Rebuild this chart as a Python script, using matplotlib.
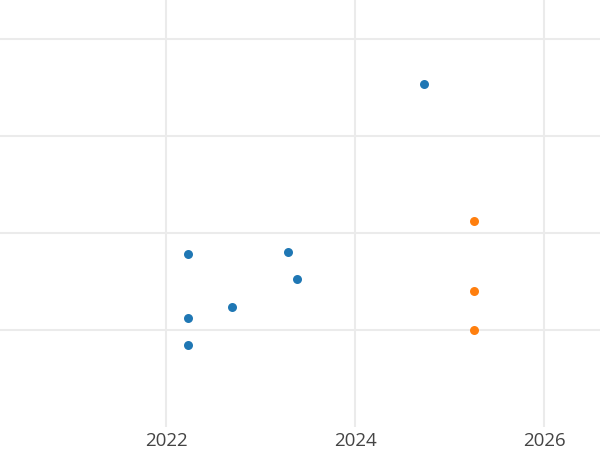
import matplotlib.pyplot as plt

# blue series (year, value)
blue_x = [2022.23, 2023.29, 2023.38, 2022.69, 2022.23, 2022.23, 2024.73]
blue_y = [1.78, 1.80, 1.52, 1.24, 1.12, 0.84, 3.53]

# orange series
orange_x = [2025.26, 2025.26, 2025.26]
orange_y = [2.12, 1.40, 1.00]

x_ticks = [2022, 2024, 2026]
y_ticks = [1, 2, 3, 4]

fig = plt.figure(figsize=(6, 4.5), dpi=100)
ax = fig.add_axes([0, 0.0511, 1, 0.9489])

ax.scatter(blue_x, blue_y, s=42, color='#1f77b4', zorder=3, linewidths=0)
ax.scatter(orange_x, orange_y, s=42, color='#ff7f0e', zorder=3, linewidths=0)

ax.set_xlim(2020.238, 2026.593)
ax.set_ylim(0, 4.4)
ax.set_xticks(x_ticks)
ax.set_xticklabels([str(t) for t in x_ticks], family='Open Sans')
ax.set_yticks(y_ticks)
ax.set_yticklabels([])

ax.grid(True, color='#ebebeb', linewidth=1.5)
ax.set_axisbelow(True)
for s in ax.spines.values():
    s.set_visible(False)
ax.tick_params(axis='both', length=0, pad=3.5, labelsize=13.5, labelcolor='#444444')

fig.savefig('out.png', dpi=100)
